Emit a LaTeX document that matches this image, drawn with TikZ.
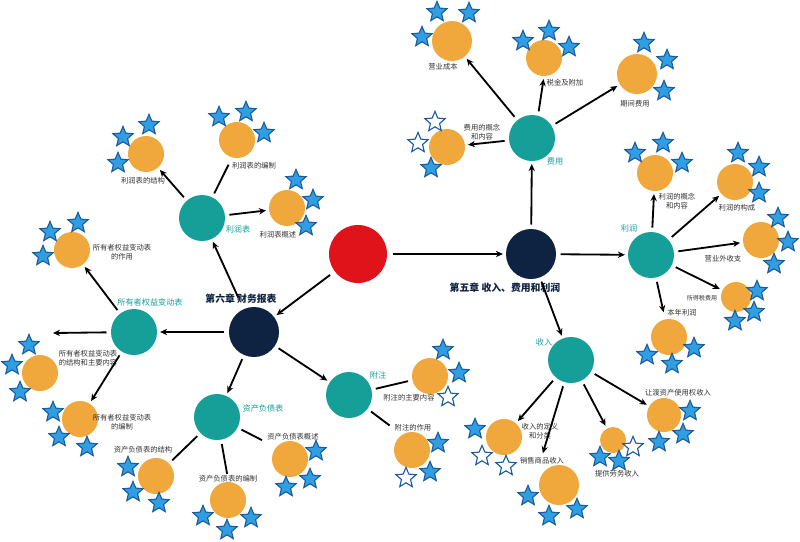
\documentclass[tikz,border=0pt]{standalone}
\usepackage{fontspec}
\setmainfont{Noto Sans CJK SC}
\usepackage{xcolor}
\usepackage{tikz}
\usetikzlibrary{shapes.geometric, positioning, arrows.meta, calc}

\definecolor{rootred}{HTML}{E0131B}
\definecolor{chapnavy}{HTML}{0E2241}
\definecolor{topicteal}{HTML}{169E99}
\definecolor{leaforange}{HTML}{F0A83C}
\definecolor{starblue}{HTML}{2F9FE4}
\definecolor{stardark}{HTML}{1D5C9E}
\definecolor{textgray}{HTML}{333333}

\begin{document}
\begin{tikzpicture}[
        x=0.025cm, y=-0.025cm,
        % Style for the circles
        rootnode/.style={circle, fill=rootred, minimum size=1.45cm, inner sep=0pt},
        chapnode/.style={circle, fill=chapnavy, minimum size=1.25cm, inner sep=0pt},
        topicnode/.style={circle, fill=topicteal, minimum size=1.15cm, inner sep=0pt},
        leafnode/.style={circle, fill=leaforange, minimum size=0.9cm, inner sep=0pt},
        % Style for the stars
        fullstar/.style={
            star,
            star points=5,
            star point ratio=2.2,
            minimum size=0.53cm,
            inner sep=0pt,
            fill=starblue,
            draw=stardark,
            line width=0.8pt
        },
        emptystar/.style={fullstar, fill=white},
        % Style for the texts
        leaftext/.style={font=\fontsize{5.2}{6.2}\selectfont, text=textgray, align=center, inner sep=1pt},
        topictext/.style={font=\fontsize{5.8}{7}\selectfont, text=topicteal, inner sep=1pt},
        chaptext/.style={font=\bfseries\fontsize{7}{8}\selectfont, text=chapnavy, inner sep=1pt},
        % Style for the connectors
        link/.style={
            -{Stealth[length=5pt, width=4.5pt]},
            line width=1.3pt,
            shorten <=3pt,
            shorten >=2pt
        },
        plainlink/.style={line width=1.3pt, shorten <=3pt, shorten >=3pt}
    ]
    \useasboundingbox (0,0) rectangle (800,541);

    % ==========================================
    % CENTRE AND CHAPTERS
    % ==========================================
    \node[rootnode] (root) at (358,254) {};
    \node[chapnode] (ch5) at (531,254) {};
    \node[chapnode] (ch6) at (254,332) {};
    \node[chaptext] (ch5-t) at (505,288) {第五章 收入、费用和利润};
    \node[chaptext] (ch6-t) at (241,299) {第六章 财务报表};

    \draw[link, shorten <=4pt] (root) -- (ch5);
    \draw[link, shorten <=4pt] (root) -- (ch6);

    % ==========================================
    % CHAPTER 5
    % ==========================================
    \node[topicnode] (fy) at (532,138) {};
    \node[topicnode] (lr) at (651,255) {};
    \node[topicnode] (sr) at (571,360) {};
    \node[topictext] (fy-t) at (555,161) {费用};
    \node[topictext] (lr-t) at (629,228) {利润};
    \node[topictext] (sr-t) at (544,342) {收入};

    \draw[link] (ch5) -- (fy);
    \draw[link] (ch5) -- (lr);
    \draw[link] (ch5) -- (sr);

    % costs
    \node[leafnode, minimum size=1cm] (yycb) at (452,41) {};
    \node[leafnode] (sjfj) at (544,58) {};
    \node[leafnode, minimum size=1cm] (qjfy) at (637,74) {};
    \node[leafnode] (fygn) at (447,147) {};
    \node[leaftext] (yycb-t) at (443,67) {营业成本};
    \node[leaftext] (sjfj-t) at (565,83) {税金及附加};
    \node[leaftext] (qjfy-t) at (635,104) {期间费用};
    \node[leaftext] (fygn-t) at (482,132) {费用的概念\\和内容};
    \draw[link] (fy) -- (yycb);
    \draw[link] (fy.75) -- (sjfj.south);
    \draw[link] (fy) -- (qjfy);
    \draw[link] (fy) -- (fygn);
    \foreach \x/\y/\s [count=\i] in {437/12/fullstar, 469/13/fullstar, 422/37/fullstar,
            523/41/fullstar, 549/31/fullstar, 569/47/fullstar,
            644/43/fullstar, 667/60/fullstar, 664/91/fullstar,
            435/122/emptystar, 418/143/emptystar, 431/168/fullstar}
        \node[\s] (fy-star\i) at (\x,\y) {};

    % profit
    \node[leafnode] (lrgn) at (655,173) {};
    \node[leafnode] (lrgc) at (735,182) {};
    \node[leafnode] (yywsz) at (761,240) {};
    \node[leafnode, minimum size=0.75cm] (sdsfy) at (736,297) {};
    \node[leafnode] (bnlr) at (669,337) {};
    \node[leaftext] (lrgn-t) at (677,201) {利润的概念\\和内容};
    \node[leaftext] (lrgc-t) at (737,208) {利润的构成};
    \node[leaftext] (yywsz-t) at (723,259) {营业外收支};
    \node[leaftext, font=\fontsize{4.3}{5}\selectfont] (sdsfy-t) at (702,298) {所得税费用};
    \node[leaftext] (bnlr-t) at (682,313) {本年利润};
    \draw[link] (lr) -- (lrgn);
    \draw[link] (lr) -- (lrgc);
    \draw[link] (lr) -- (yywsz);
    \draw[link] (lr) -- (sdsfy);
    \draw[link, shorten >=5pt] (lr) -- (bnlr);
    \foreach \x/\y/\s [count=\i] in {635/153/fullstar, 663/143/fullstar, 682/163/fullstar,
            738/153/fullstar, 759/167/fullstar, 759/193/fullstar,
            778/218/fullstar, 788/242/fullstar, 774/264/fullstar,
            757/291/fullstar, 754/312/fullstar, 735/321/fullstar,
            647/355/fullstar, 672/364/fullstar, 694/348/fullstar}
        \node[\s] (lr-star\i) at (\x,\y) {};

    % income
    \node[leafnode] (srdy) at (504,437) {};
    \node[leafnode, minimum size=1cm] (xssp) at (559,485) {};
    \node[leafnode, minimum size=0.65cm] (tgla) at (613,440) {};
    \node[leafnode, minimum size=0.85cm] (rdzc) at (664,415) {};
    \node[leaftext] (srdy-t) at (540,431) {收入的定义\\和分类};
    \node[leaftext] (xssp-t) at (542,461) {销售商品收入};
    \node[leaftext] (tgla-t) at (617,474) {提供劳务收入};
    \node[leaftext] (rdzc-t) at (678,393) {让渡资产使用权收入};
    \draw[link] (sr) -- (srdy);
    \draw[link] (sr) -- (xssp-t.north);
    \draw[link] (sr) -- (tgla);
    \draw[link] (sr) -- (rdzc);
    \foreach \x/\y/\s [count=\i] in {475/429/fullstar, 482/456/emptystar, 506/466/emptystar,
            528/496/fullstar, 549/516/fullstar, 577/509/fullstar,
            633/447/emptystar, 600/457/fullstar, 619/461/fullstar,
            690/411/fullstar, 683/434/fullstar, 659/442/fullstar}
        \node[\s] (sr-star\i) at (\x,\y) {};

    % ==========================================
    % CHAPTER 6
    % ==========================================
    \node[topicnode] (lrb) at (202,218) {};
    \node[topicnode] (syz) at (134,332) {};
    \node[topicnode] (zcfz) at (217,417) {};
    \node[topicnode] (fz) at (349,395) {};
    \node[topictext] (lrb-t) at (238,229) {利润表};
    \node[topictext] (syz-t) at (150,302) {所有者权益变动表};
    \node[topictext] (zcfz-t) at (263,408) {资产负债表};
    \node[topictext] (fz-t) at (378,375) {附注};

    \draw[link, shorten <=9pt] (ch6) -- (lrb);
    \draw[link] (ch6) -- (syz);
    \draw[link] (ch6) -- (zcfz);
    \draw[link] (ch6) -- (fz);

    % income statement
    \node[leafnode] (lrbjg) at (146,154) {};
    \node[leafnode] (lrbbz) at (237,140) {};
    \node[leafnode] (lrbgs) at (287,208) {};
    \node[leaftext] (lrbjg-t) at (143,181) {利润表的结构};
    \node[leaftext] (lrbbz-t) at (254,166) {利润表的编制};
    \node[leaftext] (lrbgs-t) at (278,235) {利润表概述};
    \draw[link] (lrb) -- (lrbjg);
    \draw[plainlink] (lrb) -- (lrbbz-t.north west);
    \draw[link] (lrb) -- (lrbgs);
    \foreach \x/\y/\s [count=\i] in {149/125/fullstar, 123/137/fullstar, 118/163/fullstar,
            219/117/fullstar, 246/112/fullstar, 264/133/fullstar,
            296/180/fullstar, 313/200/fullstar, 306/226/fullstar}
        \node[\s] (lrb-star\i) at (\x,\y) {};

    % owners' equity statement
    \node[leafnode] (syzzy) at (72,250) {};
    \node[leafnode] (syzjg) at (40,373) {};
    \node[leafnode] (syzbz) at (80,419) {};
    \coordinate (syz-end) at (53,333);
    \node[leaftext] (syzzy-t) at (122,252) {所有者权益变动表\\的作用};
    \node[leaftext] (syzjg-t) at (88,358) {所有者权益变动表\\的结构和主要内容};
    \node[leaftext] (syzbz-t) at (122,422) {所有者权益变动表\\的编制};
    \draw[link] (syz) -- (syzzy);
    \draw[link, shorten >=0pt] (syz) -- (syz-end);
    \draw[link] (syz) -- (syzbz);
    \foreach \x/\y/\s [count=\i] in {50/232/fullstar, 78/223/fullstar, 43/256/fullstar,
            29/345/fullstar, 12/365/fullstar, 20/392/fullstar,
            53/412/fullstar, 59/437/fullstar, 87/447/fullstar}
        \node[\s] (syz-star\i) at (\x,\y) {};

    % balance sheet
    \node[leafnode] (zcjg) at (156,476) {};
    \node[leafnode] (zcbz) at (228,500) {};
    \node[leafnode] (zcgs) at (290,459) {};
    \node[leaftext] (zcjg-t) at (143,450) {资产负债表的结构};
    \node[leaftext] (zcbz-t) at (228,479) {资产负债表的编制};
    \node[leaftext] (zcgs-t) at (293,437) {资产负债表概述};
    \draw[plainlink] (zcfz) -- (zcjg);
    \draw[plainlink, shorten >=0pt] (zcfz) -- (zcbz-t);
    \draw[plainlink] (zcfz) -- (zcgs-t.south west);
    \foreach \x/\y/\s [count=\i] in {128/467/fullstar, 133/492/fullstar, 159/503/fullstar,
            203/516/fullstar, 227/530/fullstar, 251/518/fullstar,
            316/451/fullstar, 310/479/fullstar, 286/487/fullstar}
        \node[\s] (zcfz-star\i) at (\x,\y) {};

    % notes
    \node[leafnode] (fzzy) at (430,376) {};
    \node[leafnode] (fzzuo) at (412,450) {};
    \node[leaftext] (fzzy-t) at (409,398) {附注的主要内容};
    \node[leaftext] (fzzuo-t) at (413,428) {附注的作用};
    \draw[plainlink] (fz) -- (fzzy);
    \draw[plainlink] (fz) -- (fzzuo-t.west);
    \foreach \x/\y/\s [count=\i] in {443/350/fullstar, 459/373/fullstar, 448/397/emptystar,
            438/443/fullstar, 430/472/fullstar, 406/478/emptystar}
        \node[\s] (fz-star\i) at (\x,\y) {};
\end{tikzpicture}
\end{document}
